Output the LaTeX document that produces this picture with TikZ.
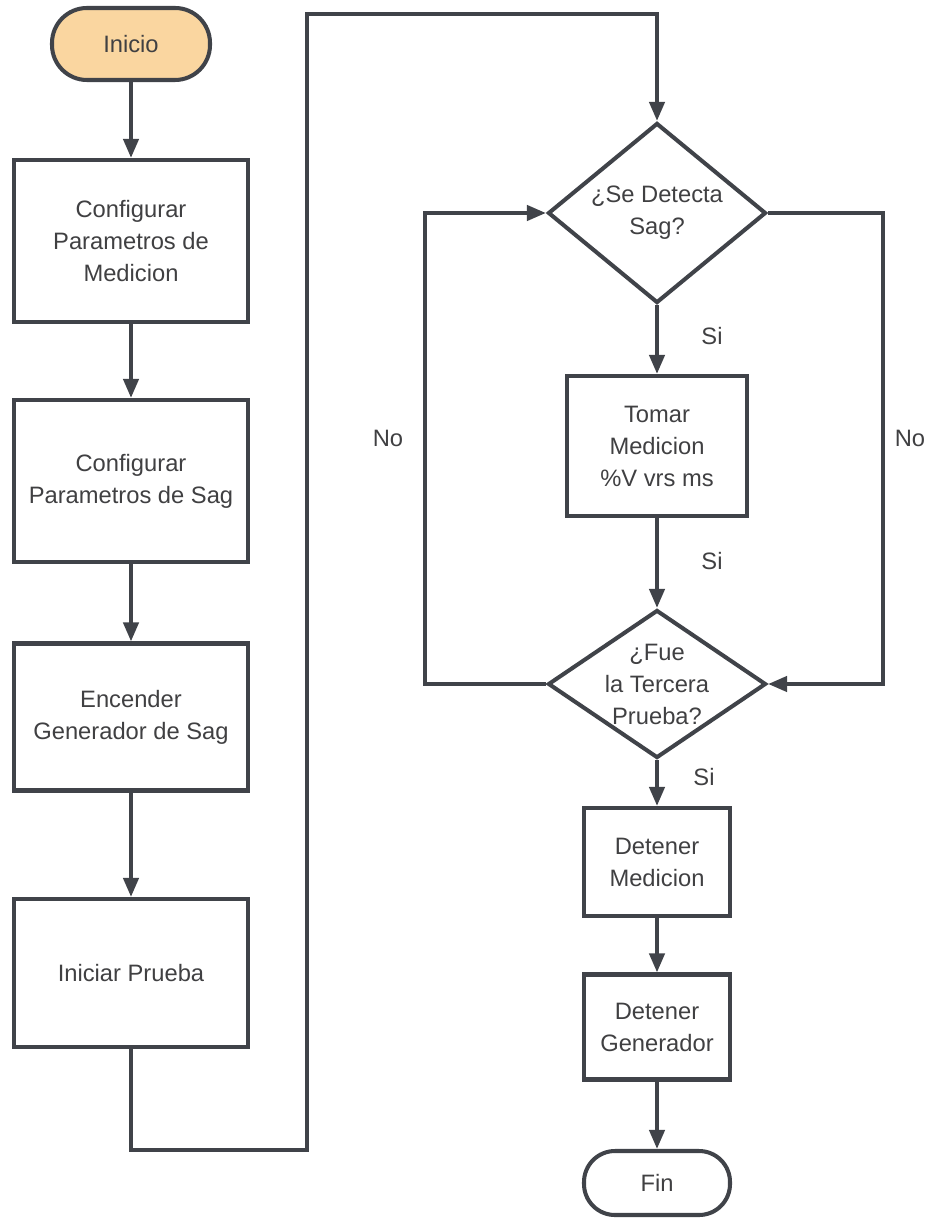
\documentclass[tikz,border=0pt]{standalone}
\usepackage{fontspec}
\setmainfont{Liberation Sans}
\usepackage{tikz}
\usetikzlibrary{calc}
\usetikzlibrary{arrows.meta}
\usetikzlibrary{shapes.geometric}
\definecolor{linegray}{RGB}{64,67,73}
\definecolor{textgray}{RGB}{64,64,66}
\definecolor{startfill}{RGB}{250,214,160}

\begin{document}
\begin{tikzpicture}
  \tikzset{
    every node/.style={font=\fontsize{13.5}{18.2}\selectfont, text=textgray},
    box/.style={draw=linegray, line width=2.3pt, rectangle, fill=white, align=center, minimum width=4.68cm},
    smallbox/.style={draw=linegray, line width=2.3pt, rectangle, fill=white, align=center, minimum width=2.92cm},
    term/.style={draw=linegray, line width=2.3pt, rectangle, rounded corners=0.7cm, align=center},
    decision/.style={draw=linegray, line width=2.3pt, diamond, inner sep=0pt, align=center, minimum width=4.36cm},
    line/.style={draw=linegray, line width=2.3pt, -{Triangle[length=0.38cm,width=0.3cm]}},
  }
  \useasboundingbox (0,0) rectangle (18.54,-24.52);
  % left column
  \node [term, fill=startfill, minimum width=3.16cm, minimum height=1.44cm] (inicio) at (2.62,-0.88) {Inicio};
  \node [box, below of = inicio, node distance=3.94cm, minimum height=3.24cm] (medicion) {Configurar\\Parametros de\\Medicion};
  \node [box, below of = medicion, node distance=4.8cm, minimum height=3.24cm] (parsag) {Configurar\\Parametros de Sag};
  \node [box, below of = parsag, node distance=4.72cm, minimum height=2.94cm] (encender) {Encender\\Generador de Sag};
  \node [box, below of = encender, node distance=5.12cm, minimum height=2.96cm] (prueba) {Iniciar Prueba};
  % right column
  \node [decision, aspect=1.21, minimum height=3.6cm] (sag) at (13.14,-4.26) {¿Se Detecta\\Sag?};
  \node [box, below of = sag, node distance=4.66cm, minimum width=3.6cm, minimum height=2.8cm] (tomar) {Tomar\\Medicion\\\%V vrs ms};
  \node [decision, below of = tomar, node distance=4.76cm, aspect=1.47, minimum height=2.96cm, inner ysep=-0.32cm] (tercera) {¿Fue\\la Tercera\\Prueba?};
  \node [smallbox, below of = tercera, node distance=3.56cm, minimum height=2.16cm] (detmed) {Detener\\Medicion};
  \node [smallbox, below of = detmed, node distance=3.3cm, minimum height=2.1cm] (detgen) {Detener\\Generador};
  \node [term, below of = detgen, node distance=3.12cm, minimum width=2.92cm, minimum height=1.28cm, rounded corners=0.62cm] (fin) {Fin};
  \coordinate (abajo) at (6.14,-23.0);
  \coordinate (arriba) at (6.14,-0.28);
  \coordinate (noizq) at (8.5,-4.26);
  \coordinate (noder) at (17.66,-4.26);
  % labels
  \node (si1) at (14.24,-6.72) {Si};
  \node (si2) at (14.24,-11.22) {Si};
  \node (si3) at (14.08,-15.54) {Si};
  \node (no1) at (7.76,-8.76) {No};
  \node (no2) at (18.2,-8.76) {No};

  \path [line] (inicio)--(medicion);
  \path [line] (medicion)--(parsag);
  \path [line] (parsag)--(encender);
  \path [line] (encender)--(prueba);
  \path [line] (prueba) |- (abajo) -- (arriba) -| (sag);
  \path [line] (sag)--(tomar);
  \path [line] (tomar)--(tercera);
  \path [line] (tercera.west) -| (noizq) -- (sag.west);
  \path [line] (sag.east) -- (noder) |- (tercera.east);
  \path [line] (tercera)--(detmed);
  \path [line] (detmed)--(detgen);
  \path [line] (detgen)--(fin);
\end{tikzpicture}
\end{document}
